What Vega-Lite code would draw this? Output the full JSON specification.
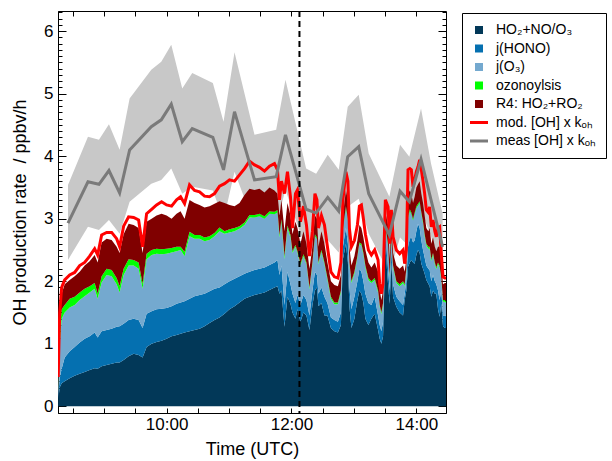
{
  "$schema": "https://vega.github.io/schema/vega-lite/v6.json",
  "width": 388,
  "height": 402,
  "autosize": {"type": "none"},
  "padding": {"left": 58, "top": 11, "right": 166, "bottom": 48},
  "background": "white",
  "config": {
    "view": {"stroke": null},
    "font": "Liberation Sans",
    "axis": {
      "domainColor": "black", "domainWidth": 1, "tickColor": "black", "tickWidth": 1,
      "labelColor": "black", "titleColor": "black", "labelFont": "Liberation Sans", "titleFont": "Liberation Sans",
      "labelFontSize": 17, "titleFontSize": 18, "titleFontWeight": "normal", "grid": false,
      "labelOverlap": false, "labelFlush": false, "labelBound": false, "zindex": 2
    }
  },
  "datasets": {
    "keys": [
      {"k": "a", "lab": "HO₂+NO/O₃", "o": 1},
      {"k": "b", "lab": "j(HONO)", "o": 2},
      {"k": "c", "lab": "j(O₃)", "o": 3},
      {"k": "d", "lab": "ozonoylsis", "o": 4},
      {"k": "e", "lab": "R4: HO₂+RO₂", "o": 5}
    ],
    "main": [
      {"t":8.264,"a":0.10,"b":0.05,"c":0.10,"d":0.03,"e":0.07,"r":0.47},
      {"t":8.288,"a":0.30,"b":0.15,"c":0.55,"d":0.20,"e":0.20,"r":1.50},
      {"t":8.320,"a":0.37,"b":0.23,"c":0.80,"d":0.15,"e":0.25,"r":1.90},
      {"t":8.368,"a":0.40,"b":0.38,"c":0.72,"d":0.12,"e":0.33,"r":2.02},
      {"t":8.448,"a":0.45,"b":0.43,"c":0.70,"d":0.14,"e":0.30,"r":2.10},
      {"t":8.528,"a":0.49,"b":0.46,"c":0.67,"d":0.13,"e":0.33,"r":2.14},
      {"t":8.608,"a":0.52,"b":0.50,"c":0.68,"d":0.12,"e":0.33,"r":2.25},
      {"t":8.688,"a":0.55,"b":0.53,"c":0.68,"d":0.12,"e":0.37,"r":2.30},
      {"t":8.768,"a":0.58,"b":0.54,"c":0.70,"d":0.10,"e":0.40,"r":2.40},
      {"t":8.848,"a":0.61,"b":0.57,"c":0.70,"d":0.09,"e":0.45,"r":2.52},
      {"t":8.896,"a":0.60,"b":0.50,"c":0.62,"d":0.08,"e":0.50,"r":2.42},
      {"t":8.960,"a":0.64,"b":0.56,"c":0.78,"d":0.10,"e":0.54,"r":2.74},
      {"t":9.040,"a":0.66,"b":0.56,"c":0.88,"d":0.10,"e":0.48,"r":2.78},
      {"t":9.120,"a":0.68,"b":0.56,"c":0.84,"d":0.10,"e":0.48,"r":2.78},
      {"t":9.200,"a":0.70,"b":0.57,"c":0.68,"d":0.10,"e":0.50,"r":2.68},
      {"t":9.248,"a":0.70,"b":0.58,"c":0.54,"d":0.10,"e":0.53,"r":2.55},
      {"t":9.312,"a":0.74,"b":0.58,"c":0.78,"d":0.10,"e":0.55,"r":2.88},
      {"t":9.392,"a":0.80,"b":0.58,"c":0.87,"d":0.10,"e":0.57,"r":3.03},
      {"t":9.472,"a":0.84,"b":0.56,"c":0.85,"d":0.09,"e":0.56,"r":3.02},
      {"t":9.552,"a":0.82,"b":0.56,"c":0.82,"d":0.10,"e":0.55,"r":2.98},
      {"t":9.616,"a":0.78,"b":0.47,"c":0.63,"d":0.08,"e":0.49,"r":2.55},
      {"t":9.680,"a":0.95,"b":0.53,"c":0.87,"d":0.09,"e":0.51,"r":3.08},
      {"t":9.760,"a":1.00,"b":0.52,"c":0.90,"d":0.08,"e":0.50,"r":3.15},
      {"t":9.840,"a":1.03,"b":0.52,"c":0.89,"d":0.08,"e":0.53,"r":3.22},
      {"t":9.920,"a":1.05,"b":0.51,"c":0.87,"d":0.08,"e":0.57,"r":3.27},
      {"t":10.000,"a":1.08,"b":0.49,"c":0.87,"d":0.08,"e":0.53,"r":3.22},
      {"t":10.080,"a":1.12,"b":0.48,"c":0.86,"d":0.07,"e":0.47,"r":3.20},
      {"t":10.160,"a":1.14,"b":0.50,"c":0.84,"d":0.07,"e":0.53,"r":3.30},
      {"t":10.224,"a":1.16,"b":0.50,"c":0.84,"d":0.05,"e":0.57,"r":3.35},
      {"t":10.288,"a":1.18,"b":0.50,"c":0.72,"d":0.07,"e":0.53,"r":3.24},
      {"t":10.368,"a":1.20,"b":0.52,"c":1.00,"d":0.07,"e":0.51,"r":3.54},
      {"t":10.448,"a":1.22,"b":0.54,"c":0.92,"d":0.06,"e":0.51,"r":3.45},
      {"t":10.528,"a":1.24,"b":0.54,"c":0.90,"d":0.06,"e":0.48,"r":3.43},
      {"t":10.608,"a":1.28,"b":0.52,"c":0.84,"d":0.06,"e":0.48,"r":3.36},
      {"t":10.688,"a":1.33,"b":0.51,"c":0.82,"d":0.06,"e":0.48,"r":3.35},
      {"t":10.768,"a":1.38,"b":0.50,"c":0.84,"d":0.05,"e":0.47,"r":3.40},
      {"t":10.848,"a":1.42,"b":0.48,"c":0.90,"d":0.06,"e":0.42,"r":3.52},
      {"t":10.928,"a":1.48,"b":0.47,"c":0.81,"d":0.04,"e":0.45,"r":3.56},
      {"t":11.008,"a":1.55,"b":0.45,"c":0.78,"d":0.05,"e":0.39,"r":3.62},
      {"t":11.088,"a":1.60,"b":0.44,"c":0.76,"d":0.05,"e":0.35,"r":3.60},
      {"t":11.168,"a":1.66,"b":0.42,"c":0.76,"d":0.04,"e":0.37,"r":3.70},
      {"t":11.248,"a":1.72,"b":0.40,"c":0.78,"d":0.04,"e":0.44,"r":3.80},
      {"t":11.328,"a":1.75,"b":0.40,"c":0.87,"d":0.04,"e":0.42,"r":3.92},
      {"t":11.408,"a":1.78,"b":0.40,"c":0.84,"d":0.04,"e":0.40,"r":3.86},
      {"t":11.488,"a":1.80,"b":0.40,"c":0.84,"d":0.04,"e":0.40,"r":3.82},
      {"t":11.568,"a":1.82,"b":0.40,"c":0.78,"d":0.04,"e":0.38,"r":3.76},
      {"t":11.648,"a":1.86,"b":0.40,"c":0.82,"d":0.04,"e":0.38,"r":3.84},
      {"t":11.728,"a":1.90,"b":0.40,"c":0.77,"d":0.04,"e":0.34,"r":3.88},
      {"t":11.776,"a":1.92,"b":0.42,"c":0.76,"d":0.04,"e":0.26,"r":3.78},
      {"t":11.808,"a":1.80,"b":0.30,"c":0.60,"d":0.04,"e":0.31,"r":3.30},
      {"t":11.840,"a":1.85,"b":0.40,"c":0.70,"d":0.04,"e":0.31,"r":3.60},
      {"t":11.888,"a":1.27,"b":0.35,"c":0.73,"d":0.05,"e":0.40,"r":3.40},
      {"t":11.936,"a":1.75,"b":0.40,"c":0.70,"d":0.04,"e":0.36,"r":3.75},
      {"t":11.984,"a":1.64,"b":0.31,"c":0.75,"d":0.04,"e":0.31,"r":3.35},
      {"t":12.016,"a":1.50,"b":0.30,"c":0.65,"d":0.03,"e":0.27,"r":2.85},
      {"t":12.064,"a":1.40,"b":0.25,"c":0.90,"d":0.03,"e":0.37,"r":3.40},
      {"t":12.096,"a":1.55,"b":0.23,"c":0.67,"d":0.03,"e":0.37,"r":3.46},
      {"t":12.144,"a":1.35,"b":0.27,"c":0.63,"d":0.03,"e":0.32,"r":2.95},
      {"t":12.192,"a":1.50,"b":0.28,"c":0.62,"d":0.03,"e":0.37,"r":3.20},
      {"t":12.240,"a":1.45,"b":0.25,"c":0.57,"d":0.03,"e":0.30,"r":2.90},
      {"t":12.288,"a":1.22,"b":0.23,"c":0.42,"d":0.03,"e":0.30,"r":2.40},
      {"t":12.336,"a":1.62,"b":0.23,"c":0.42,"d":0.03,"e":0.25,"r":2.80},
      {"t":12.376,"a":1.85,"b":0.30,"c":0.57,"d":0.03,"e":0.30,"r":3.40},
      {"t":12.408,"a":1.90,"b":0.20,"c":0.57,"d":0.03,"e":0.30,"r":3.30},
      {"t":12.432,"a":1.60,"b":0.20,"c":0.47,"d":0.03,"e":0.25,"r":2.85},
      {"t":12.480,"a":1.65,"b":0.25,"c":0.57,"d":0.03,"e":0.30,"r":3.05},
      {"t":12.528,"a":1.45,"b":0.30,"c":0.52,"d":0.03,"e":0.30,"r":2.90},
      {"t":12.576,"a":1.45,"b":0.20,"c":0.37,"d":0.03,"e":0.25,"r":2.55},
      {"t":12.632,"a":1.25,"b":0.17,"c":0.30,"d":0.03,"e":0.25,"r":2.15},
      {"t":12.688,"a":1.20,"b":0.18,"c":0.25,"d":0.03,"e":0.28,"r":2.07},
      {"t":12.744,"a":1.18,"b":0.17,"c":0.28,"d":0.03,"e":0.26,"r":2.05},
      {"t":12.792,"a":1.30,"b":0.20,"c":0.32,"d":0.03,"e":0.25,"r":2.30},
      {"t":12.824,"a":2.35,"b":0.20,"c":0.27,"d":0.03,"e":0.20,"r":3.30},
      {"t":12.872,"a":2.60,"b":0.25,"c":0.32,"d":0.03,"e":0.25,"r":3.75},
      {"t":12.904,"a":2.30,"b":0.30,"c":0.37,"d":0.03,"e":0.30,"r":3.60},
      {"t":12.928,"a":1.60,"b":0.30,"c":0.37,"d":0.03,"e":0.25,"r":2.85},
      {"t":12.960,"a":1.25,"b":0.30,"c":0.42,"d":0.03,"e":0.25,"r":2.55},
      {"t":13.008,"a":1.40,"b":0.35,"c":0.37,"d":0.03,"e":0.25,"r":2.65},
      {"t":13.056,"a":1.70,"b":0.30,"c":0.37,"d":0.03,"e":0.25,"r":2.90},
      {"t":13.088,"a":1.85,"b":0.35,"c":0.39,"d":0.03,"e":0.28,"r":3.20},
      {"t":13.120,"a":1.80,"b":0.35,"c":0.42,"d":0.03,"e":0.25,"r":3.22},
      {"t":13.152,"a":1.65,"b":0.35,"c":0.42,"d":0.03,"e":0.25,"r":3.00},
      {"t":13.184,"a":1.40,"b":0.40,"c":0.42,"d":0.03,"e":0.25,"r":2.75},
      {"t":13.232,"a":1.30,"b":0.35,"c":0.37,"d":0.03,"e":0.25,"r":2.50},
      {"t":13.280,"a":1.40,"b":0.22,"c":0.35,"d":0.03,"e":0.22,"r":2.42},
      {"t":13.333,"a":1.48,"b":0.27,"c":0.27,"d":0.03,"e":0.25,"r":2.50},
      {"t":13.387,"a":1.22,"b":0.23,"c":0.37,"d":0.03,"e":0.30,"r":2.34},
      {"t":13.413,"a":1.08,"b":0.22,"c":0.29,"d":0.03,"e":0.23,"r":1.96},
      {"t":13.440,"a":1.00,"b":0.20,"c":0.27,"d":0.03,"e":0.20,"r":1.80},
      {"t":13.467,"a":1.12,"b":0.23,"c":0.27,"d":0.03,"e":0.20,"r":1.96},
      {"t":13.504,"a":2.55,"b":0.20,"c":0.12,"d":0.03,"e":0.20,"r":3.30},
      {"t":13.547,"a":1.95,"b":0.25,"c":0.37,"d":0.03,"e":0.30,"r":3.19},
      {"t":13.573,"a":1.64,"b":0.21,"c":0.22,"d":0.03,"e":0.25,"r":2.60},
      {"t":13.600,"a":2.30,"b":0.20,"c":0.17,"d":0.03,"e":0.20,"r":3.14},
      {"t":13.627,"a":1.75,"b":0.20,"c":0.27,"d":0.03,"e":0.20,"r":2.71},
      {"t":13.680,"a":1.59,"b":0.16,"c":0.22,"d":0.03,"e":0.25,"r":2.50},
      {"t":13.733,"a":1.50,"b":0.18,"c":0.24,"d":0.03,"e":0.25,"r":2.44},
      {"t":13.787,"a":1.45,"b":0.17,"c":0.35,"d":0.03,"e":0.25,"r":2.50},
      {"t":13.813,"a":1.70,"b":0.10,"c":0.12,"d":0.03,"e":0.20,"r":2.28},
      {"t":13.840,"a":1.85,"b":0.15,"c":0.17,"d":0.03,"e":0.15,"r":2.50},
      {"t":13.867,"a":2.23,"b":0.32,"c":0.47,"d":0.03,"e":0.35,"r":3.78},
      {"t":13.896,"a":2.30,"b":0.38,"c":0.44,"d":0.03,"e":0.30,"r":3.80},
      {"t":13.920,"a":2.34,"b":0.36,"c":0.37,"d":0.03,"e":0.30,"r":3.78},
      {"t":13.947,"a":2.30,"b":0.32,"c":0.35,"d":0.03,"e":0.25,"r":3.51},
      {"t":13.973,"a":2.28,"b":0.37,"c":0.42,"d":0.03,"e":0.25,"r":3.62},
      {"t":14.000,"a":2.42,"b":0.38,"c":0.37,"d":0.03,"e":0.30,"r":3.75},
      {"t":14.027,"a":2.50,"b":0.42,"c":0.29,"d":0.03,"e":0.31,"r":3.83},
      {"t":14.053,"a":2.45,"b":0.40,"c":0.40,"d":0.03,"e":0.32,"r":3.94},
      {"t":14.080,"a":2.28,"b":0.37,"c":0.42,"d":0.03,"e":0.30,"r":3.78},
      {"t":14.107,"a":2.20,"b":0.30,"c":0.42,"d":0.03,"e":0.30,"r":3.60},
      {"t":14.133,"a":2.12,"b":0.26,"c":0.34,"d":0.03,"e":0.30,"r":3.40},
      {"t":14.160,"a":2.02,"b":0.23,"c":0.32,"d":0.03,"e":0.25,"r":3.14},
      {"t":14.192,"a":1.96,"b":0.24,"c":0.32,"d":0.03,"e":0.25,"r":3.10},
      {"t":14.213,"a":1.92,"b":0.26,"c":0.34,"d":0.03,"e":0.30,"r":3.19},
      {"t":14.240,"a":1.75,"b":0.25,"c":0.32,"d":0.03,"e":0.25,"r":2.87},
      {"t":14.267,"a":1.85,"b":0.25,"c":0.32,"d":0.03,"e":0.25,"r":2.98},
      {"t":14.296,"a":1.80,"b":0.20,"c":0.27,"d":0.03,"e":0.25,"r":2.80},
      {"t":14.320,"a":1.80,"b":0.15,"c":0.24,"d":0.03,"e":0.26,"r":2.71},
      {"t":14.347,"a":1.55,"b":0.30,"c":0.42,"d":0.03,"e":0.25,"r":2.85},
      {"t":14.373,"a":1.43,"b":0.27,"c":0.52,"d":0.03,"e":0.30,"r":2.87},
      {"t":14.400,"a":1.64,"b":0.21,"c":0.17,"d":0.03,"e":0.20,"r":2.44},
      {"t":14.427,"a":1.28,"b":0.17,"c":0.22,"d":0.03,"e":0.25,"r":2.07},
      {"t":14.456,"a":1.25,"b":0.20,"c":0.22,"d":0.03,"e":0.27,"r":2.05},
      {"t":14.475,"a":1.25,"b":0.19,"c":0.21,"d":0.03,"e":0.29,"r":2.05}
    ],
    "meas": [
      {"t":8.421,"m":2.93,"hi":3.54,"lo":2.34},
      {"t":8.741,"m":3.59,"hi":4.31,"lo":2.87},
      {"t":8.917,"m":3.55,"hi":4.26,"lo":2.82},
      {"t":9.077,"m":3.77,"hi":4.51,"lo":2.98},
      {"t":9.248,"m":3.41,"hi":4.10,"lo":2.76},
      {"t":9.408,"m":4.10,"hi":4.92,"lo":3.27},
      {"t":9.755,"m":4.47,"hi":5.38,"lo":3.56},
      {"t":9.915,"m":4.58,"hi":5.51,"lo":3.62},
      {"t":10.075,"m":4.83,"hi":5.78,"lo":3.80},
      {"t":10.251,"m":4.23,"hi":5.08,"lo":3.40},
      {"t":10.411,"m":4.44,"hi":5.33,"lo":3.51},
      {"t":10.741,"m":4.30,"hi":5.17,"lo":3.45},
      {"t":10.912,"m":3.78,"hi":4.55,"lo":2.98},
      {"t":11.088,"m":4.71,"hi":5.66,"lo":3.75},
      {"t":11.408,"m":3.62,"hi":4.34,"lo":2.90},
      {"t":11.755,"m":3.67,"hi":4.42,"lo":2.92},
      {"t":11.904,"m":4.34,"hi":5.22,"lo":3.46},
      {"t":12.235,"m":3.15,"hi":3.80,"lo":2.50},
      {"t":12.395,"m":3.09,"hi":3.72,"lo":2.46},
      {"t":12.581,"m":3.34,"hi":4.02,"lo":2.66},
      {"t":12.757,"m":3.12,"hi":3.78,"lo":2.46},
      {"t":12.901,"m":3.99,"hi":4.79,"lo":3.19},
      {"t":13.077,"m":4.15,"hi":4.98,"lo":3.32},
      {"t":13.237,"m":3.40,"hi":4.04,"lo":2.76},
      {"t":13.568,"m":2.74,"hi":3.35,"lo":2.13},
      {"t":13.739,"m":3.44,"hi":4.18,"lo":2.70},
      {"t":13.888,"m":3.27,"hi":3.99,"lo":2.55},
      {"t":14.075,"m":3.95,"hi":4.76,"lo":3.14},
      {"t":14.235,"m":3.30,"hi":3.88,"lo":2.72},
      {"t":14.421,"m":2.55,"hi":3.08,"lo":2.02}
    ]
  },
  "resolve": {"axis": {"x": "independent", "y": "independent"}},
  "layer": [
    {
      "data": {"name": "meas"},
      "mark": {"type": "area", "color": "#c8c8c8", "clip": true},
      "encoding": {
        "x": {"field": "t", "type": "quantitative", "scale": {"domain": [8.261, 14.475], "nice": false, "zero": false},
          "axis": {"orient": "bottom", "values": [10, 12, 14], "ticks": false,
            "labelExpr": "datum.value + ':00'", "labelPadding": 3, "title": "Time (UTC)", "titlePadding": 8}},
        "y": {"field": "lo", "type": "quantitative", "scale": {"domain": [-0.107, 6.32], "nice": false, "zero": false},
          "axis": {"orient": "left", "values": [0, 1, 2, 3, 4, 5, 6], "ticks": false,
            "labelPadding": 5, "title": "OH production rate \u00a0/ ppbv/h", "titlePadding": 14}},
        "y2": {"field": "hi"}
      }
    },
    {
      "data": {"name": "main"},
      "transform": [
        {"fold": ["a", "b", "c", "d", "e"], "as": ["k", "v"]},
        {"lookup": "k", "from": {"data": {"name": "keys"}, "key": "k", "fields": ["lab", "o"]}}
      ],
      "mark": {"type": "area", "clip": true},
      "encoding": {
        "x": {"field": "t", "type": "quantitative", "scale": {"domain": [8.261, 14.475], "nice": false, "zero": false},
          "axis": {"orient": "bottom", "values": [8.5,9,9.5,10,10.5,11,11.5,12,12.5,13,13.5,14], "tickSize": -5, "labels": false, "title": null}},
        "y": {"field": "v", "type": "quantitative", "stack": "zero", "scale": {"domain": [-0.107, 6.32], "nice": false, "zero": false},
          "axis": {"orient": "left", "values": [0,0.1,0.2,0.3,0.4,0.5,0.6,0.7,0.8,0.9,1,1.1,1.2,1.3,1.4,1.5,1.6,1.7,1.8,1.9,2,2.1,2.2,2.3,2.4,2.5,2.6,2.7,2.8,2.9,3,3.1,3.2,3.3,3.4,3.5,3.6,3.7,3.8,3.9,4,4.1,4.2,4.3,4.4,4.5,4.6,4.7,4.8,4.9,5,5.1,5.2,5.3,5.4,5.5,5.6,5.7,5.8,5.9,6,6.1,6.2,6.3],
            "tickSize": {"condition": {"test": "abs(datum.value - round(datum.value)) < 0.001", "value": -8}, "value": -4},
            "labels": false, "title": null}},
        "order": {"field": "o", "type": "quantitative", "sort": "ascending"},
        "color": {"field": "lab", "type": "nominal",
          "scale": {"domain": ["HO₂+NO/O₃", "j(HONO)", "j(O₃)", "ozonoylsis", "R4: HO₂+RO₂", "mod. [OH] x kₒₕ", "meas [OH] x kₒₕ"],
                    "range": ["#023858", "#0570b0", "#74a9cf", "#00ff00", "#800000", "#ff0000", "#7a7a7a"]},
          "legend": {
            "orient": "none", "legendX": 404, "legendY": 2, "title": null,
            "strokeColor": "black", "fillColor": "white", "padding": 10,
            "labelFont": "Liberation Sans", "labelFontSize": 14, "labelColor": "black",
            "labelOffset": 10, "rowPadding": 4.5, "symbolSize": 324,
            "encode": {"symbols": {"update": {
              "shape": {"signal": "datum.index >= 5 ? 'stroke' : 'square'"},
              "size": {"signal": "datum.index >= 5 ? 324 : 64"},
              "fill": {"scale": "color", "field": "value"},
              "stroke": {"scale": "color", "field": "value"},
              "strokeWidth": {"signal": "datum.index >= 5 ? 3 : 0"},
              "opacity": {"value": 1}
            }}}
          }}
      }
    },
    {
      "data": {"name": "main"},
      "mark": {"type": "line", "strokeWidth": 3, "clip": true},
      "encoding": {
        "x": {"field": "t", "type": "quantitative", "scale": {"domain": [8.261, 14.475], "nice": false, "zero": false},
          "axis": {"orient": "top", "values": [8.5,9,9.5,10,10.5,11,11.5,12,12.5,13,13.5,14], "tickSize": -5, "labels": false, "title": null}},
        "y": {"field": "r", "type": "quantitative", "scale": {"domain": [-0.107, 6.32], "nice": false, "zero": false},
          "axis": {"orient": "right", "values": [0,0.1,0.2,0.3,0.4,0.5,0.6,0.7,0.8,0.9,1,1.1,1.2,1.3,1.4,1.5,1.6,1.7,1.8,1.9,2,2.1,2.2,2.3,2.4,2.5,2.6,2.7,2.8,2.9,3,3.1,3.2,3.3,3.4,3.5,3.6,3.7,3.8,3.9,4,4.1,4.2,4.3,4.4,4.5,4.6,4.7,4.8,4.9,5,5.1,5.2,5.3,5.4,5.5,5.6,5.7,5.8,5.9,6,6.1,6.2,6.3],
            "tickSize": {"condition": {"test": "abs(datum.value - round(datum.value)) < 0.001", "value": -8}, "value": -4},
            "labels": false, "title": null}},
        "color": {"datum": "mod. [OH] x kₒₕ", "type": "nominal",
          "scale": {"domain": ["HO₂+NO/O₃", "j(HONO)", "j(O₃)", "ozonoylsis", "R4: HO₂+RO₂", "mod. [OH] x kₒₕ", "meas [OH] x kₒₕ"],
                    "range": ["#023858", "#0570b0", "#74a9cf", "#00ff00", "#800000", "#ff0000", "#7a7a7a"]}}
      }
    },
    {
      "data": {"name": "meas"},
      "mark": {"type": "line", "strokeWidth": 3, "clip": true},
      "encoding": {
        "x": {"field": "t", "type": "quantitative", "scale": {"domain": [8.261, 14.475], "nice": false, "zero": false}, "axis": null},
        "y": {"field": "m", "type": "quantitative", "scale": {"domain": [-0.107, 6.32], "nice": false, "zero": false}, "axis": null},
        "color": {"datum": "meas [OH] x kₒₕ", "type": "nominal",
          "scale": {"domain": ["HO₂+NO/O₃", "j(HONO)", "j(O₃)", "ozonoylsis", "R4: HO₂+RO₂", "mod. [OH] x kₒₕ", "meas [OH] x kₒₕ"],
                    "range": ["#023858", "#0570b0", "#74a9cf", "#00ff00", "#800000", "#ff0000", "#7a7a7a"]}}
      }
    },
    {
      "data": {"values": [{"t": 12.128}]},
      "mark": {"type": "rule", "color": "black", "strokeWidth": 2, "strokeDash": [6, 4]},
      "encoding": {
        "x": {"field": "t", "type": "quantitative", "scale": {"domain": [8.261, 14.475], "nice": false, "zero": false}, "axis": null}
      }
    }
  ]
}
